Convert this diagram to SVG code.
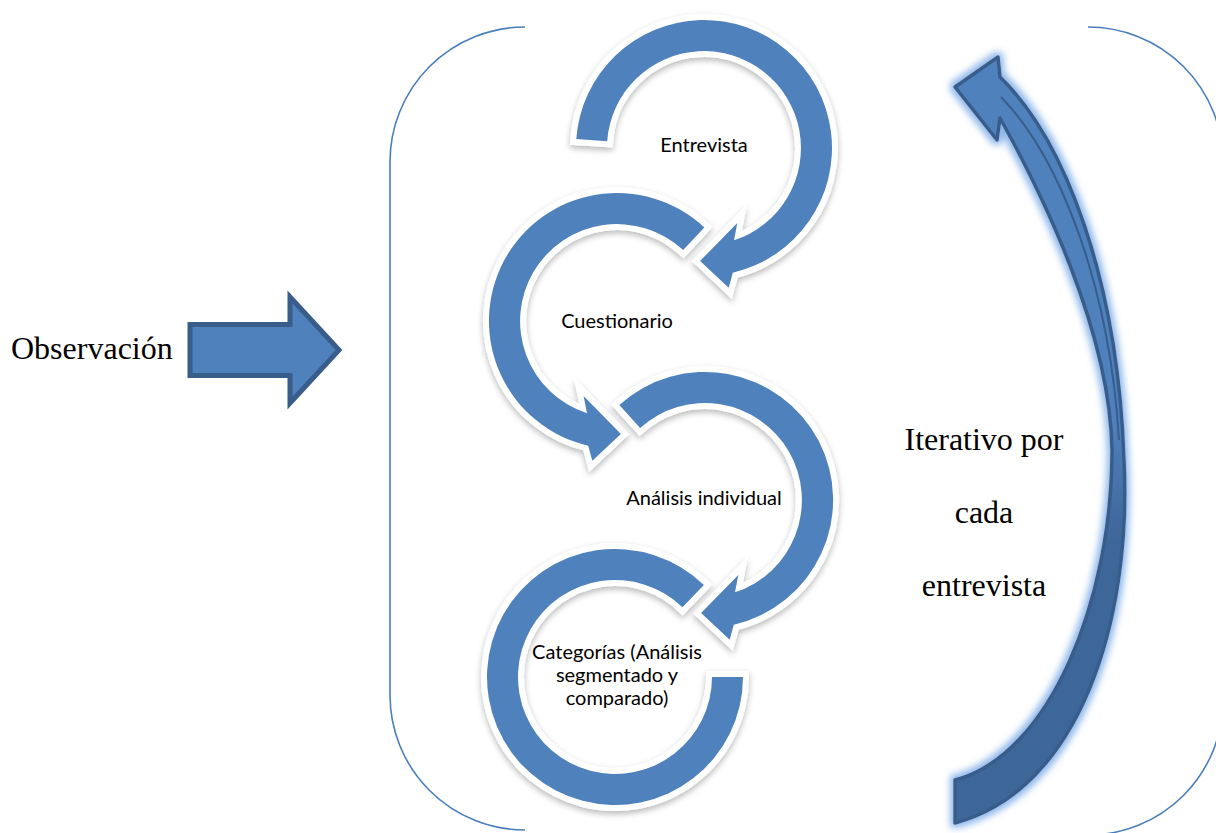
<svg xmlns="http://www.w3.org/2000/svg" width="1216" height="833" viewBox="0 0 1216 833">
<style>
.ring{fill:#4f81bd;stroke:#ffffff;stroke-width:12;stroke-linejoin:miter;paint-order:stroke;filter:url(#shadow)}
.lbl{font-family:Lato,"Open Sans",sans-serif;font-size:20px;fill:#000;text-anchor:middle}
.big{font-family:"Liberation Serif","Times New Roman",serif;font-size:32px;fill:#000}
.brk{fill:none;stroke:#4a7ebb;stroke-width:1.6}
</style>
<defs>
<filter id="shadow" x="-20%" y="-20%" width="140%" height="140%">
<feDropShadow dx="0" dy="3" stdDeviation="3" flood-color="#000" flood-opacity="0.28"/>
</filter>
<filter id="glow" x="-40%" y="-10%" width="180%" height="120%">
<feMorphology in="SourceAlpha" operator="dilate" radius="3" result="d"/>
<feGaussianBlur in="d" stdDeviation="3.5" result="b"/>
<feFlood flood-color="#8db6ea"/>
<feComposite in2="b" operator="in" result="g"/>
<feMerge><feMergeNode in="g"/><feMergeNode in="SourceGraphic"/></feMerge>
</filter>
<linearGradient id="curvefill" gradientUnits="userSpaceOnUse" x1="0" y1="420" x2="0" y2="540">
<stop offset="0" stop-color="#4f81bd"/>
<stop offset="1" stop-color="#3e6699"/>
</linearGradient>
</defs>
<rect width="1216" height="833" fill="#ffffff"/>

<g id="bracket">
<path class="brk" d="M525,27 A135,135 0 0 0 390,162 V695 A135,135 0 0 0 525,830"/>
<path class="brk" d="M1088,27 A135,135 0 0 1 1223,162 V700 A135,135 0 0 1 1088,835"/>
</g>

<g id="observacion">
<text class="big" x="11" y="359">Observación</text>
</g>

<g id="step-entrevista">
<path class="ring" d="M576.3,139.1 A128,128 0 1 1 732.8,272.7 L728.7,287.8 L700.1,260.9 L737.3,222.9 L734,240.3 A97,97 0 1 0 607.2,141.2 Z"/>
<text class="lbl" x="704" y="152">Entrevista</text>
</g>

<g id="step-cuestionario">
<path class="ring" d="M704.3,227.4 A128,128 0 1 0 588.2,445.7 L592.3,460.8 L620.9,433.9 L583.6,395.9 L587,413.3 A97,97 0 1 1 683.2,250.1 Z"/>
<text class="lbl" x="617" y="328">Cuestionario</text>
</g>

<g id="step-analisis">
<path class="ring" d="M619.4,404.9 A128,128 0 1 1 733.8,624.7 L729.7,639.8 L701.1,612.9 L738.3,574.9 L735,592.3 A97,97 0 1 0 640.1,427.9 Z"/>
<text class="lbl" x="704" y="505">Análisis individual</text>
</g>

<g id="step-categorias">
<path class="ring" d="M703.9,584.9 A128,128 0 1 0 743,677 L712,677 A97,97 0 1 1 682.4,607.2 Z"/>
<text class="lbl" x="617" y="659">Categorías (Análisis</text>
<text class="lbl" x="617" y="682">segmentado y</text>
<text class="lbl" x="617" y="705">comparado)</text>
</g>

<g id="iterativo">
<text class="big" x="984" y="450" text-anchor="middle">Iterativo por</text>
<text class="big" x="984" y="523" text-anchor="middle">cada</text>
<text class="big" x="984" y="596" text-anchor="middle">entrevista</text>
</g>

<g id="connectors">
<path d="M190,324.5 H290 V297 L339,350 L290,403 V375.5 H190 Z" fill="#4f81bd" stroke="#385d8a" stroke-width="5" stroke-linejoin="miter"/>
<g filter="url(#glow)">
<path d="M955,87 L998,57 L1000,77 C1065,140 1118,280 1124,460 C1132,620 1080,790 955,823 L955,780 C1050,755 1112,600 1112,450 C1110,330 1040,190 1000,118 L997,140 Z" fill="url(#curvefill)" stroke="#385d8a" stroke-width="3.5" stroke-linejoin="round"/>
<path d="M1001,97 C1062,160 1110,290 1119,440" fill="none" stroke="#385d8a" stroke-width="2"/>
</g>
</g>
</svg>
